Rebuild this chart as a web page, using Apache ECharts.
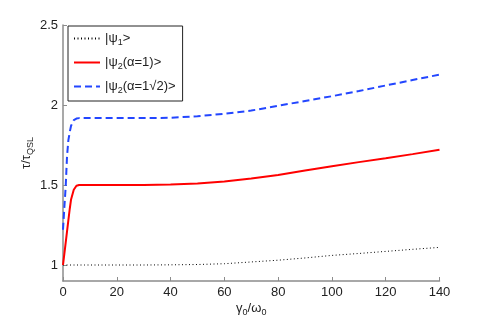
<!DOCTYPE html>
<html><head><meta charset="utf-8">
<script src="https://cdn.jsdelivr.net/npm/echarts@6/dist/echarts.min.js"></script>
<style>html,body{margin:0;padding:0;background:#fff}#c{width:485px;height:319px}</style>
</head><body><div id="c"></div>
<script>
const xValues = [0, 0.5, 1, 1.5, 2, 2.5, 3, 4, 5, 6, 8, 10, 20, 30, 40, 50, 60, 70, 80, 90, 100, 110, 120, 130, 140];
const psi1 = [1, 1, 1, 1, 1, 1, 1, 1, 1, 1, 1, 1, 1, 1, 1.001, 1.003, 1.008, 1.019, 1.03, 1.044, 1.06, 1.072, 1.085, 1.098, 1.11];
const psi2a1 = [1, 1.07, 1.14, 1.21, 1.28, 1.35, 1.41, 1.47, 1.495, 1.5, 1.5, 1.5, 1.5, 1.5, 1.503, 1.51, 1.522, 1.54, 1.562, 1.59, 1.617, 1.643, 1.667, 1.693, 1.72];
const psi2a2 = [1.22, 1.36, 1.49, 1.68, 1.78, 1.83, 1.87, 1.905, 1.915, 1.918, 1.918, 1.918, 1.918, 1.918, 1.92, 1.93, 1.945, 1.965, 1.995, 2.025, 2.055, 2.087, 2.122, 2.156, 2.19];
const yTicks = [1, 1.5, 2, 2.5];
const seriesNames = ['psi1', 'psi2a1', 'psi2a2'];
const legendLabels = {
  psi1: '|ψ{s|1}>',
  psi2a1: '|ψ{s|2}(α=1)>',
  psi2a2: '|ψ{s|2}(α=1√2)>'
};

const pairs = arr => xValues.map((x, i) => [x, arr[i]]);
const font = 'Liberation Sans, Arial, sans-serif';
const axisColor = '#8c8c8c';
const chart = echarts.init(document.getElementById('c'), null, {renderer: 'canvas'});
chart.setOption({
  animation: false,
  backgroundColor: '#fff',
  textStyle: {fontFamily: font},
  grid: {left: 63, right: 45.5, top: 25, bottom: 38, containLabel: false, outerBoundsMode: 'none'},
  legend: {
    orient: 'vertical', left: 68, top: 26,
    itemWidth: 26, itemHeight: 14, itemGap: 9,
    padding: [6, 7, 6, 5],
    borderColor: '#222', borderWidth: 1, backgroundColor: '#fff',
    selectedMode: false,
    data: seriesNames,
    itemStyle: {opacity: 0},
    formatter: n => legendLabels[n],
    textStyle: {
      fontSize: 13, color: '#222', fontFamily: font,
      rich: {s: {fontSize: 9, color: '#222', fontFamily: font, padding: [8, 0, 0, 0]}}
    }
  },
  xAxis: {
    type: 'value', min: 0, max: 140, interval: 20,
    name: 'γ{s|0}/ω{s|0}', nameLocation: 'middle', nameGap: 19, nameMoveOverlap: false,
    nameTextStyle: {fontSize: 13, color: '#222', fontFamily: font,
      rich: {s: {fontSize: 9, color: '#222', fontFamily: font, padding: [8, 0, 0, 0]}}},
    axisLine: {show: true, lineStyle: {color: axisColor, width: 1.5}},
    axisTick: {show: true, inside: true, length: 4, lineStyle: {color: axisColor, width: 1}},
    axisLabel: {fontSize: 13, color: '#222', margin: 5},
    splitLine: {show: false}
  },
  yAxis: {
    type: 'value', min: 0.9, max: 2.5,
    name: 'τ/τ{s|QSL}', nameLocation: 'middle', nameGap: 28, nameRotate: 90, nameMoveOverlap: false,
    nameTextStyle: {fontSize: 13, color: '#222', fontFamily: font,
      rich: {s: {fontSize: 9, color: '#222', fontFamily: font, padding: [8, 0, 0, 0]}}},
    axisLine: {show: true, lineStyle: {color: axisColor, width: 1.5}},
    axisTick: {show: true, inside: true, length: 4, customValues: yTicks, lineStyle: {color: axisColor, width: 1}},
    axisLabel: {fontSize: 13, color: '#222', margin: 5, customValues: yTicks, formatter: v => String(v)},
    splitLine: {show: false}
  },
  series: [
    {name: 'psi1', type: 'line', data: pairs(psi1), symbol: 'none', showSymbol: false,
     lineStyle: {color: '#000', width: 1, type: [1, 2.5]}, itemStyle: {color: '#000'}},
    {name: 'psi2a1', type: 'line', data: pairs(psi2a1), symbol: 'none', showSymbol: false,
     lineStyle: {color: '#ff0000', width: 2}, itemStyle: {color: '#ff0000'}},
    {name: 'psi2a2', type: 'line', data: pairs(psi2a2), symbol: 'none', showSymbol: false,
     lineStyle: {color: '#2346ff', width: 2, type: [7, 4]}, itemStyle: {color: '#2346ff'}}
  ]
});
</script></body></html>
